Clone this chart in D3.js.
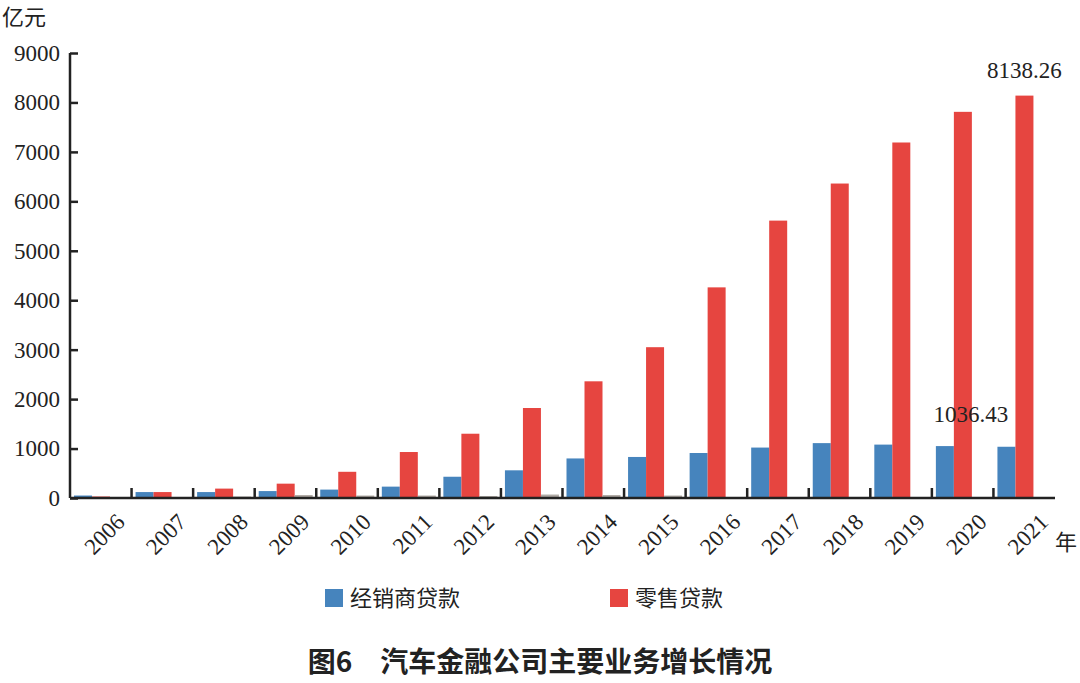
<!DOCTYPE html><html><head><meta charset="utf-8"><script src="https://cdn.jsdelivr.net/npm/d3@7"></script>
<style>body{margin:0;background:#fff}</style></head><body><svg id="c" width="1080" height="683"></svg>
<script>
const years=["2006","2007","2008","2009","2010","2011","2012","2013","2014","2015","2016","2017","2018","2019","2020","2021"];
const dealer=[50,120,120,140,170,230,430,560,800,830,910,1020,1110,1080,1050,1036.43];
const retail=[30,120,190,290,530,930,1300,1820,2360,3050,4260,5610,6360,7190,7810,8138.26];
const other=[0,0,30,60,50,50,40,70,60,50,0,0,0,0,0,0];
const yTicks=[0,1000,2000,3000,4000,5000,6000,7000,8000,9000];
const svg=d3.select("#c");
const x=d3.scaleBand().domain(years).range([70,1055]);
const y=d3.scaleLinear().domain([0,9000]).range([498,53]);
const serif="Liberation Serif, Times New Roman, serif";
const bw=18, off=4;
const series=[[dealer,"#4684bd"],[retail,"#e64540"],[other,"#b0aaa5"]];
series.forEach(([vals,col],i)=>{
 svg.selectAll(null).data(years).enter().append("rect")
  .attr("x",d=>x(d)+off+i*bw).attr("width",bw)
  .attr("y",(d,j)=>y(vals[j])).attr("height",(d,j)=>498-y(vals[j])).attr("fill",col);
});
const ya=svg.append("g").attr("transform","translate(70,0)").call(d3.axisLeft(y).tickValues(yTicks).tickSize(-8).tickPadding(10).tickFormat(d3.format("d")));
ya.select(".domain").attr("d","M0,53V498").attr("stroke","#222").attr("stroke-width",2.5);
ya.selectAll(".tick line").attr("stroke","#222").attr("stroke-width",2.5);
ya.selectAll("text").attr("font-family",serif).attr("font-size",23).attr("fill","#222");
svg.append("line").attr("x1",70).attr("x2",1055).attr("y1",498).attr("y2",498).attr("stroke","#222").attr("stroke-width",2.5);
const xa=svg.append("g");
years.slice(1).forEach(d=>xa.append("line").attr("x1",x(d)).attr("x2",x(d)).attr("y1",498).attr("y2",488).attr("stroke","#222").attr("stroke-width",2.5));
svg.append("g").selectAll("text").data(years).enter().append("text")
 .attr("transform",d=>`translate(${x(d)+x.bandwidth()/2+14},${512}) rotate(-45)`)
 .attr("text-anchor","end").attr("dy","0.7em").attr("font-family",serif).attr("font-size",23).attr("fill","#222").text(d=>d);
svg.append("text").attr("x",1055).attr("y",550).attr("font-family","Noto Sans CJK SC").attr("font-size",22).attr("fill","#222").text("年");
svg.append("text").attr("x",2).attr("y",25).attr("font-family","Noto Sans CJK SC").attr("font-size",22).attr("fill","#222").text("亿元");
svg.append("text").attr("x",x("2021")+off+bw*1.5).attr("y",y(8138.26)-18).attr("text-anchor","middle").attr("font-family",serif).attr("font-size",23).attr("fill","#222").text("8138.26");
svg.append("text").attr("x",x("2020")+off+bw*1.5+8).attr("y",y(1036.43)-25).attr("text-anchor","middle").attr("font-family",serif).attr("font-size",23).attr("fill","#222").text("1036.43");
const leg=[["经销商贷款","#4684bd",325],["零售贷款","#e64540",610]];
leg.forEach(([t,c,lx])=>{svg.append("rect").attr("x",lx).attr("y",589).attr("width",18).attr("height",18).attr("fill",c);
 svg.append("text").attr("x",lx+25).attr("y",606).attr("font-family","Noto Sans CJK SC").attr("font-size",22).attr("fill","#222").text(t);});
svg.append("text").attr("x",540).attr("y",672).attr("text-anchor","middle").attr("font-family","Noto Sans CJK SC").attr("font-weight","bold").attr("font-size",28).attr("fill","#222").attr("xml:space","preserve").text("图6　汽车金融公司主要业务增长情况");
</script></body></html>
